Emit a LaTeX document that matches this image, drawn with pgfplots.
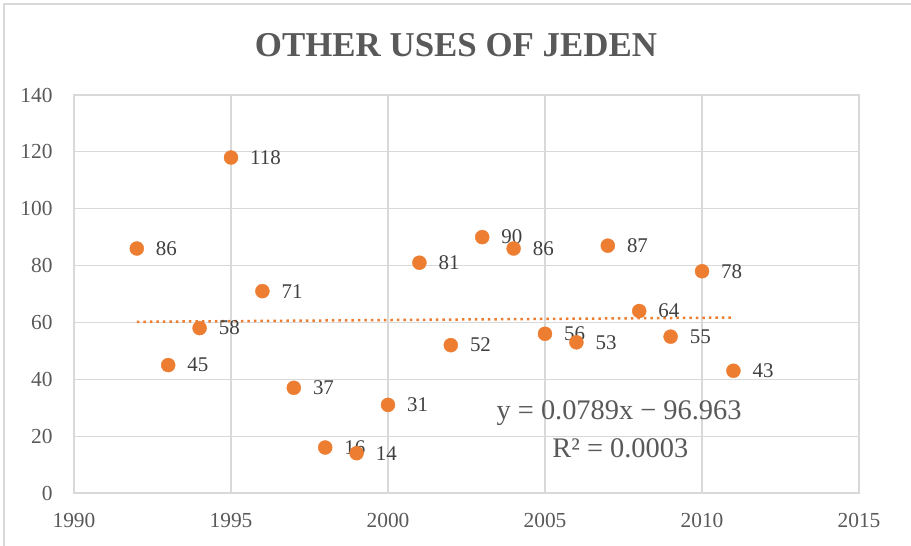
\documentclass[border=0pt]{standalone}
\usepackage{pgfplots}
\pgfplotsset{compat=1.18}
\usepackage{pgfplotstable}
\usepackage{fontspec}
\setmainfont{Liberation Serif}
\definecolor{orng}{HTML}{ED7D31}
\definecolor{grd}{HTML}{D9D9D9}
\definecolor{txt}{HTML}{595959}
\definecolor{lbl}{HTML}{404040}
\pgfplotstableread{
x y lab
1992 86 86
1993 45 45
1994 58 58
1995 118 118
1996 71 71
1997 37 37
1998 16 16
1999 14 14
2000 31 31
2001 81 81
2002 52 52
2003 90 90
2004 86 86
2005 56 56
2006 53 53
2007 87 87
2008 64 64
2009 55 55
2010 78 78
2011 43 43
}\datatable
\begin{document}
\begin{tikzpicture}[x=1bp,y=1bp]
\path[use as bounding box] (-74,-53) rectangle (837,493);
\draw[grd, line width=1.5bp] (-70,-70) -- (-70,489) -- (860,489);
\begin{axis}[at={(0,0)}, anchor=south west, scale only axis,
  width=785bp, height=398bp,
  xmin=1990, xmax=2015, ymin=0, ymax=140,
  xtick={1990,1995,...,2015}, ytick={0,20,...,140},
  grid=major, grid style={grd, line width=1.2bp},
  axis line style={grd, line width=1.2bp},
  major tick length=0pt,
  tick label style={font=\fontsize{21.5}{21.5}\selectfont, text=txt},
  /pgf/number format/1000 sep={}, /pgf/number format/assume math mode=true,
  xticklabel style={yshift=-17bp}, yticklabel style={xshift=-18bp},
  clip=false]
\addplot[orng, line width=2.5bp, dash pattern=on 2.5bp off 4bp]
  coordinates {(1992,60.21) (2011,61.71)};
\addplot[only marks, mark=*, mark size=7bp, mark options={draw=orng, fill=orng},
  nodes near coords, point meta=explicit symbolic,
  every node near coord/.append style={anchor=west, inner sep=0pt, xshift=19bp,
    font=\fontsize{21}{21}\selectfont, text=lbl}]
  table[x=x, y=y, meta=lab] {\datatable};
\node[text=txt, font=\fontsize{28.5}{28.5}\selectfont] at (axis cs:2007.36,28.1) {y = 0.0789x − 96.963};
\node[text=txt, font=\fontsize{28.5}{28.5}\selectfont] at (axis cs:2007.4,15.8) {R² = 0.0003};
\end{axis}
\node[text=txt] at (382,448) {\fontsize{35}{35}\selectfont\bfseries OTHER USES OF JEDEN};
\end{tikzpicture}
\end{document}
